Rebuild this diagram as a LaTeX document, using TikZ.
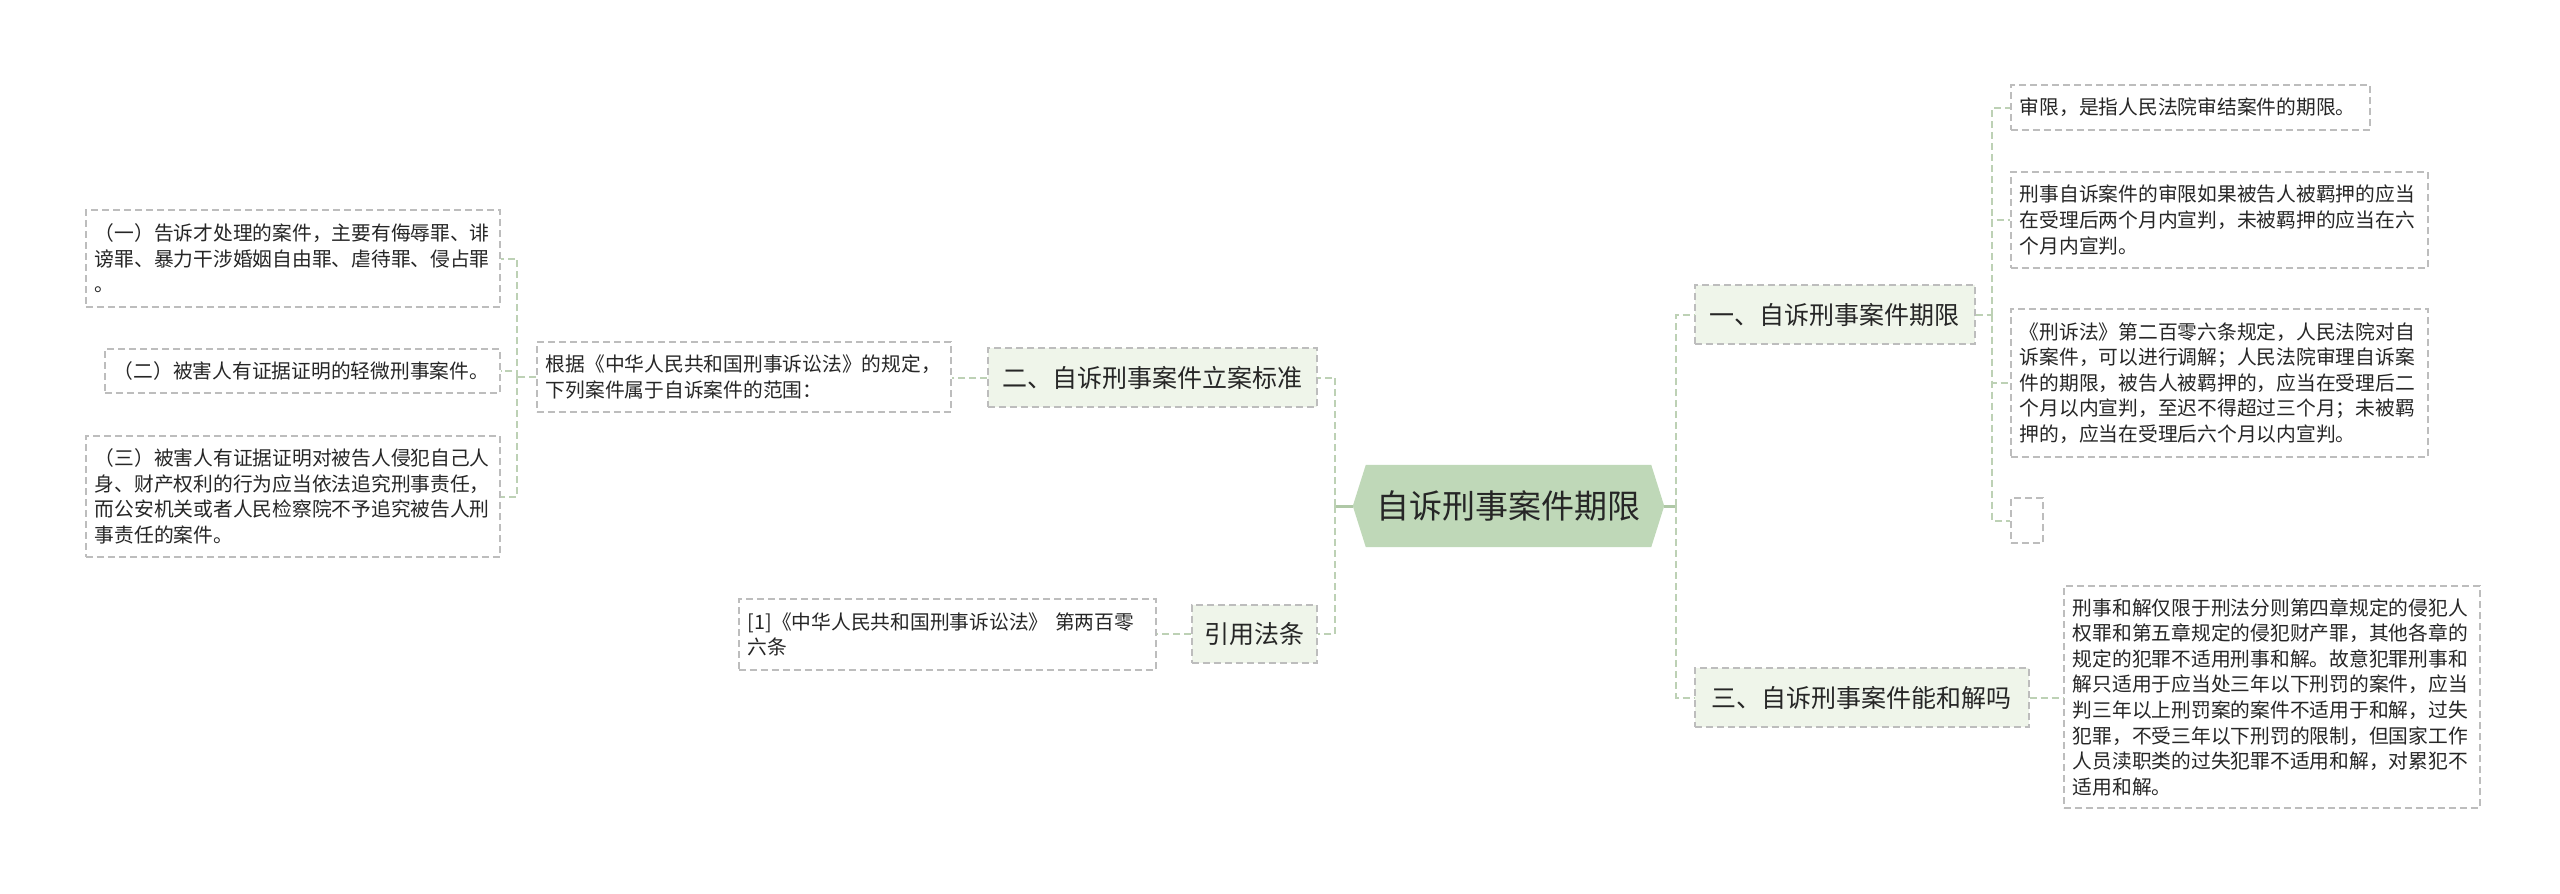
\documentclass[tikz,border=0pt]{standalone}
\usepackage{fontspec}
\setmainfont{Noto Sans CJK SC}
\usetikzlibrary{backgrounds}
\definecolor{rootfill}{HTML}{BFD8B8}
\definecolor{lvfill}{HTML}{EFF5EA}
\definecolor{bordergray}{HTML}{BDBDBD}
\definecolor{connc}{HTML}{BDD1B5}
\definecolor{rootconn}{HTML}{AFC8A6}
\definecolor{txt}{HTML}{262626}
\tikzset{
  base/.style={draw=bordergray, line width=1.5pt, dash pattern=on 7pt off 4pt, text=txt},
  lvone/.style={base, fill=lvfill, anchor=west, minimum height=59pt, inner sep=0pt, font=\fontsize{25}{30}\selectfont},
  leaf/.style={base, fill=white, anchor=west, inner xsep=9pt, inner ysep=0pt, align=left, font=\fontsize{19.75}{25.6}\selectfont},
  conn/.style={draw=connc, line width=2pt, dash pattern=on 7pt off 4pt},
  rootline/.style={draw=rootconn, line width=3pt},
}
\begin{document}
\begin{tikzpicture}[x=1pt,y=-1pt]
\useasboundingbox (0,0) rectangle (2560,894);

% root
\node[text=txt, minimum width=311pt, minimum height=82pt, inner sep=0pt, font=\fontsize{33}{40}\selectfont] (root) at (1508.5,506) {自诉刑事案件期限};

% level one
\node[lvone, minimum width=329pt] (n2) at (987,377.5) {二、自诉刑事案件立案标准};
\node[lvone, minimum width=125pt, minimum height=58pt] (ny) at (1191,634) {引用法条};
\node[lvone, minimum width=280pt] (n1) at (1694,314.5) {一、自诉刑事案件期限};
\node[lvone, minimum width=334pt] (n3) at (1694,697.5) {三、自诉刑事案件能和解吗};

% left leaves
\node[leaf, text width=396pt, minimum height=70pt] (r0) at (536,377) {根据《中华人民共和国刑事诉讼法》的规定，\\下列案件属于自诉案件的范围：};
\node[leaf, text width=396pt, minimum height=97pt] (b1) at (85,258.5) {（一）告诉才处理的案件，主要有侮辱罪、诽\\谤罪、暴力干涉婚姻自由罪、虐待罪、侵占罪\\。};
\node[leaf, text width=377pt, minimum height=44pt] (b2) at (104,371) {（二）被害人有证据证明的轻微刑事案件。};
\node[leaf, text width=396pt, minimum height=121pt] (b3) at (85,496.5) {（三）被害人有证据证明对被告人侵犯自己人\\身、财产权利的行为应当依法追究刑事责任，\\而公安机关或者人民检察院不予追究被告人刑\\事责任的案件。};
\node[leaf, text width=399pt, minimum height=71pt] (ref) at (738,634.5) {[1]《中华人民共和国刑事诉讼法》 第两百零\\六条};

% right leaves
\node[leaf, text width=341pt, minimum height=45pt] (c1) at (2010,107.5) {审限，是指人民法院审结案件的期限。};
\node[leaf, text width=399pt, minimum height=96pt] (c2) at (2010,220) {刑事自诉案件的审限如果被告人被羁押的应当\\在受理后两个月内宣判，未被羁押的应当在六\\个月内宣判。};
\node[leaf, text width=399pt, minimum height=148pt] (c3) at (2010,383) {《刑诉法》第二百零六条规定，人民法院对自\\诉案件，可以进行调解；人民法院审理自诉案\\件的期限，被告人被羁押的，应当在受理后二\\个月以内宣判，至迟不得超过三个月；未被羁\\押的，应当在受理后六个月以内宣判。};
\node[base, fill=white, anchor=west, minimum width=32pt, minimum height=45pt, inner sep=0pt] (c4) at (2010,520.5) {};
\node[leaf, text width=398pt, minimum height=222pt] (d1) at (2063,697) {刑事和解仅限于刑法分则第四章规定的侵犯人\\权罪和第五章规定的侵犯财产罪，其他各章的\\规定的犯罪不适用刑事和解。故意犯罪刑事和\\解只适用于应当处三年以下刑罚的案件，应当\\判三年以上刑罚案的案件不适用于和解，过失\\犯罪，不受三年以下刑罚的限制，但国家工作\\人员渎职类的过失犯罪不适用和解，对累犯不\\适用和解。};

% junctions
\coordinate (jL) at (1335,506);
\coordinate (jR) at (1676,506);
\coordinate (j1) at (1992,314.5);
\coordinate (j0) at (517,377);

% connectors
\draw[rootline] (root.west) -- (jL);
\draw[rootline] (root.east) -- (jR);
\draw[conn] (jL) |- (n2.east);
\draw[conn] (jL) |- (ny.east);
\draw[conn] (jR) |- (n1.west);
\draw[conn] (jR) |- (n3.west);
\draw[conn] (n1.east) -- (j1);
\draw[conn] (j1) |- (c1.west);
\draw[conn] (j1) |- (c2.west);
\draw[conn] (j1) |- (c3.west);
\draw[conn] (j1) |- (c4.west);
\draw[conn] (n3.east) -- (n3.east -| d1.west);
\draw[conn] (n2.west) -- (n2.west -| r0.east);
\draw[conn] (r0.west) -- (j0);
\draw[conn] (j0) |- (b1.east);
\draw[conn] (j0) |- (b2.east);
\draw[conn] (j0) |- (b3.east);
\draw[conn] (ny.west) -- (ny.west -| ref.east);

\begin{scope}[on background layer]
\fill[white] (0,0) rectangle (2560,894);
\fill[rootfill] (root.west) -- ([xshift=13pt]root.north west) -- ([xshift=-13pt]root.north east)
  -- (root.east) -- ([xshift=-13pt]root.south east) -- ([xshift=13pt]root.south west) -- cycle;
\end{scope}
\end{tikzpicture}
\end{document}
